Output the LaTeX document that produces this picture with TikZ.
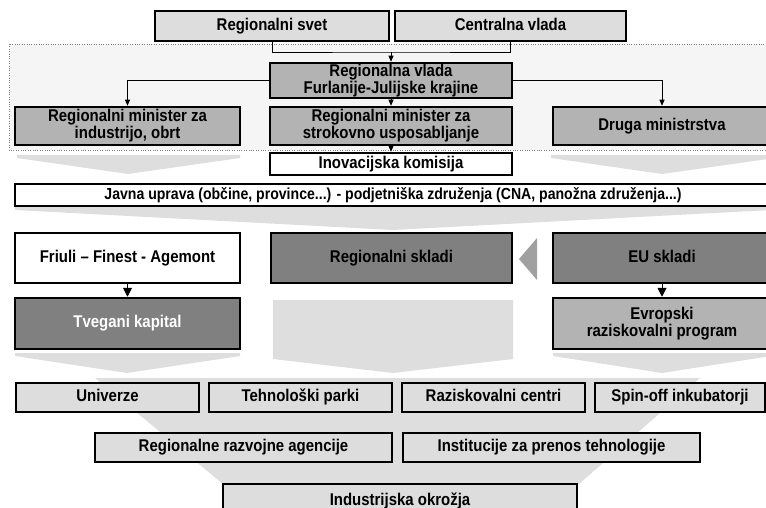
\documentclass[tikz,border=0pt]{standalone}
\usepackage{fontspec}
\setmainfont{Liberation Sans}[FakeStretch=0.88]
\usetikzlibrary{arrows.meta}

\definecolor{lightfill}{HTML}{DDDDDD}
\definecolor{midfill}{HTML}{B3B3B3}
\definecolor{darkfill}{HTML}{808080}
\definecolor{chevfill}{HTML}{DEDEDE}
\definecolor{panelfill}{HTML}{F5F5F5}
\definecolor{tipfill}{HTML}{A0A0A0}

\tikzset{
  box/.style={draw, line width=2.5pt, inner sep=0pt, align=center,
    text height=12pt, text depth=3.5pt,
    font=\bfseries\fontsize{17}{17}\selectfont},
  twolines/.style={text height=, text depth=},
  lightbox/.style={box, fill=lightfill},
  midbox/.style={box, fill=midfill},
  darkbox/.style={box, fill=darkfill},
  whitebox/.style={box, fill=white},
  chevron/.style={fill=chevfill},
  link/.style={line width=0.8pt, -{Triangle[length=6pt,width=5pt]}},
  biglink/.style={line width=1pt, -{Triangle[length=9pt,width=9pt]}}
}

\begin{document}
\begin{tikzpicture}[x=1pt, y=-1pt]
  \useasboundingbox (0,0) rectangle (766,508);
  \clip (0,0) rectangle (766,508);

  % grey background
  \draw[dotted, gray, fill=panelfill] (9,44) rectangle (776,150);
  \fill[chevron] (17,155) -- (240,155) -- (240,158) -- (128,174) -- (17,158) -- cycle;
  \fill[chevron] (551,155) -- (775,155) -- (775,158) -- (662,174) -- (551,158) -- cycle;
  \fill[chevron] (15,207) -- (771,207) -- (771,210) -- (393,230) -- (15,210) -- cycle;
  \fill[chevron] (273,300) -- (513,300) -- (513,359) -- (393,373) -- (273,359) -- cycle;
  \fill[chevron] (15,353) -- (240,353) -- (240,356) -- (127,373) -- (15,356) -- cycle;
  \fill[chevron] (553,353) -- (771,353) -- (771,356) -- (662,373) -- (553,356) -- cycle;
  \fill[chevron] (95,378) -- (700,378) -- (579,484) -- (223,484) -- cycle;
  \fill[tipfill] (537,238) -- (537,280) -- (519,259) -- cycle;

  % government
  \node[lightbox, minimum width=234pt, minimum height=30pt] (svet) at (272,26) {Regionalni svet};
  \node[lightbox, minimum width=231pt, minimum height=30pt] (centralna) at (510.5,26) {Centralna vlada};
  \node[midbox, twolines, minimum width=242pt, minimum height=35pt] (vlada) at (391,80.5)
    {Regionalna vlada\\Furlanije-Julijske krajine};
  \node[midbox, twolines, minimum width=225pt, minimum height=38pt] (minind) at (127.5,126)
    {Regionalni minister za\\industrijo, obrt};
  \node[midbox, twolines, minimum width=242pt, minimum height=38pt] (minstrok) at (391,126)
    {Regionalni minister za\\strokovno usposabljanje};
  \node[midbox, minimum width=218pt, minimum height=38pt] (druga) at (662,126) {Druga ministrstva};
  \node[whitebox, minimum width=242pt, minimum height=22pt] (inov) at (391,164) {Inovacijska komisija};
  \node[whitebox, minimum width=756pt, minimum height=22pt, font=\bfseries\fontsize{16}{16}\selectfont]
    (javna) at (393,195)
    {Javna uprava (občine, province...) - podjetniška združenja (CNA, panožna združenja...)};

  % funds
  \node[whitebox, minimum width=225pt, minimum height=50pt] (friuli) at (127.5,258) {Friuli – Finest - Agemont};
  \node[darkbox, minimum width=241pt, minimum height=50pt] (skladi) at (391.5,258) {Regionalni skladi};
  \node[darkbox, minimum width=218pt, minimum height=50pt] (euskladi) at (662,258) {EU skladi};
  \node[darkbox, text=white, minimum width=225pt, minimum height=51pt] (tvegani) at (127.5,323.5) {Tvegani kapital};
  \node[midbox, twolines, minimum width=218pt, minimum height=51pt] (evropski) at (662,323.5)
    {Evropski\\raziskovalni program};

  % institutions
  \foreach \name/\x/\w/\txt in {univerze/107.5/183/Univerze,
      parki/300.5/183/Tehnološki parki,
      centri/493.5/183/Raziskovalni centri,
      spinoff/680/170/Spin-off inkubatorji}
    \node[lightbox, minimum width=\w pt, minimum height=29pt] (\name) at (\x,397.5) {\txt};
  \node[lightbox, minimum width=297pt, minimum height=29pt] (agencije) at (243.5,447.5) {Regionalne razvojne agencije};
  \node[lightbox, minimum width=297pt, minimum height=29pt] (prenos) at (551.5,447.5) {Institucije za prenos tehnologije};
  \node[lightbox, minimum width=354pt, minimum height=34pt] (okrozja) at (400,501) {Industrijska okrožja};

  % connectors
  \coordinate (join) at (391,52);
  \draw[line width=0.8pt] (svet.south) |- (join) -| (centralna.south);
  \draw[link] (join) -- (vlada.north);
  \draw[link] (vlada.west) -| (minind.north);
  \draw[link] (vlada.east) -| (druga.north);
  \draw[link] (vlada.south) -- (minstrok.north);
  \draw[link] (minstrok.south) -- (inov.north);
  \draw[biglink] (friuli.south) -- (tvegani.north);
  \draw[biglink] (euskladi.south) -- (evropski.north);
\end{tikzpicture}
\end{document}
